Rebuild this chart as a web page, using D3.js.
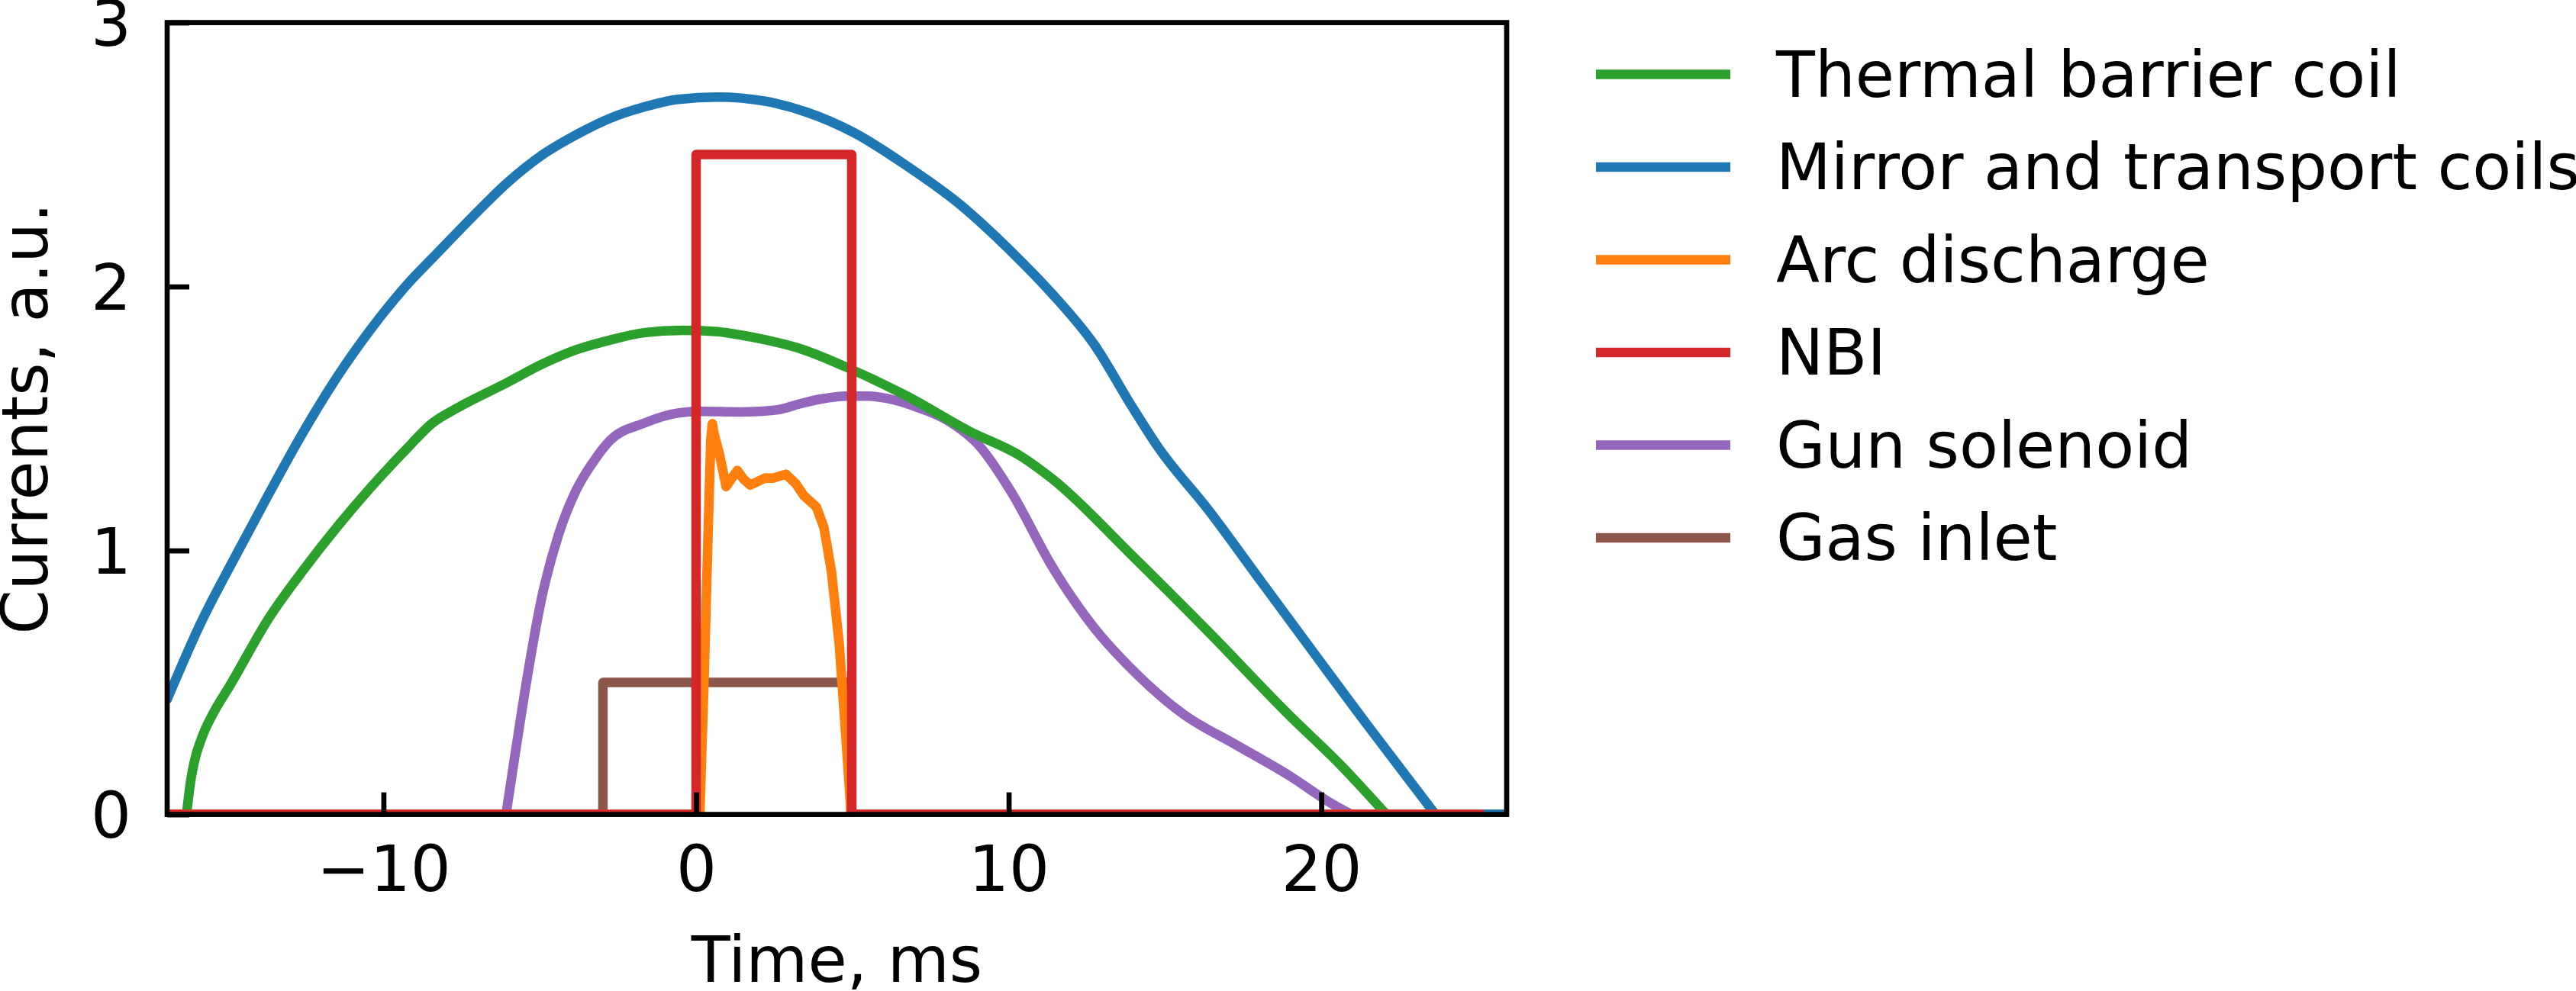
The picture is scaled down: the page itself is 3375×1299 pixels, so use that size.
<!DOCTYPE html>
<html>
<head>
<meta charset="utf-8">
<script src="https://cdn.jsdelivr.net/npm/d3@7"></script>
<style>
  body { margin: 0; background: #fff; }
  text { font-family: "DejaVu Sans", sans-serif; }
</style>
</head>
<body>
<svg id="chart" width="3375" height="1299"></svg>
<script>
// tick values and labels
const xTicks = [-10, 0, 10, 20];
const yTicks = [0, 1, 2, 3];
const xLabel = "Time, ms";
const yLabel = "Currents, a.u.";

// legend entries (legend order)
const seriesNames = ["Thermal barrier coil", "Mirror and transport coils", "Arc discharge", "NBI", "Gun solenoid", "Gas inlet"];
const seriesColors = ["#2ca02c", "#1f77b4", "#ff7f0e", "#d62728", "#9467bd", "#8c564b"];

// [time ms, current a.u.]
const thermalBarrier = [[-16.92, 0], [-16.30, 0], [-16.18, 0.117], [-16.06, 0.195], [-15.81, 0.291], [-15.42, 0.389],
  [-14.93, 0.485], [-13.66, 0.745], [-12.57, 0.925], [-11.48, 1.09], [-10.40, 1.24], [-9.30, 1.38], [-8.43, 1.483],
  [-7.67, 1.538], [-6.03, 1.637], [-4.94, 1.705], [-3.85, 1.76], [-2.76, 1.797], [-1.67, 1.825], [-0.45, 1.834],
  [0.6, 1.83], [1.89, 1.806], [3.40, 1.762], [4.80, 1.695], [6.73, 1.586], [8.74, 1.452], [10.41, 1.356],
  [11.41, 1.27], [13.93, 0.983], [16.44, 0.686], [18.95, 0.379], [20.62, 0.187], [22.08, 0], [25.93, 0]];

const mirrorTransport = [[-16.92, 0.436], [-15.85, 0.724], [-14.75, 0.975], [-13.66, 1.216], [-12.57, 1.448],
  [-11.48, 1.658], [-10.40, 1.839], [-9.30, 2.0], [-8.21, 2.135], [-7.12, 2.268], [-6.03, 2.394], [-4.94, 2.497],
  [-3.85, 2.574], [-2.76, 2.637], [-1.67, 2.68], [-0.58, 2.709], [0.70, 2.718], [2.21, 2.702], [3.55, 2.66],
  [5.05, 2.583], [6.73, 2.458], [8.40, 2.315], [10.41, 2.094], [11.41, 1.97], [12.75, 1.778], [13.93, 1.548],
  [14.76, 1.395], [16.44, 1.146], [18.11, 0.877], [19.78, 0.609], [21.46, 0.341], [23.65, 0], [25.93, 0]];

const arcDischarge = [[-16.92, 0], [0.12, 0], [0.26, 0.53], [0.39, 1.09], [0.47, 1.42], [0.52, 1.48], [0.58, 1.44],
  [0.75, 1.364], [0.96, 1.242], [1.12, 1.27], [1.32, 1.303], [1.52, 1.27], [1.73, 1.248], [2.22, 1.275],
  [2.46, 1.274], [2.87, 1.289], [3.19, 1.253], [3.44, 1.209], [3.85, 1.165], [4.09, 1.087], [4.33, 0.921],
  [4.58, 0.645], [4.78, 0.313], [4.95, 0.02], [5.05, 0], [25.1, 0]];

const nbi = [[-16.92, 0], [0.0, 0], [0.0, 2.5], [4.98, 2.5], [4.98, 0], [25.1, 0]];

const gunSolenoid = [[-16.92, 0], [-6.08, 0], [-5.8, 0.22], [-5.49, 0.456], [-4.94, 0.82], [-4.40, 1.06],
  [-3.85, 1.225], [-3.31, 1.332], [-2.76, 1.416], [-1.67, 1.482], [-0.58, 1.521], [0.16, 1.527], [1.37, 1.525],
  [2.0, 1.527], [2.7, 1.535], [3.3, 1.555], [4.0, 1.574], [4.8, 1.585], [5.5, 1.585], [6.2, 1.574], [7.02, 1.545],
  [8.07, 1.491], [9.07, 1.395], [10.08, 1.222], [11.41, 0.935], [12.75, 0.705], [13.93, 0.551], [15.60, 0.379],
  [17.27, 0.264], [18.95, 0.149], [20.29, 0.044], [20.96, 0], [25.93, 0]];

const gasInlet = [[-16.92, 0], [-2.98, 0], [-2.98, 0.5], [4.95, 0.5], [4.95, 0], [25.1, 0]];

const seriesData = [thermalBarrier, mirrorTransport, arcDischarge, nbi, gunSolenoid, gasInlet];
const smooth = [true, true, false, false, true, false];
const drawOrder = [4, 0, 1, 5, 2, 3]; // red on top, green over purple

const fontSize = 83.3;
const lineWidth = 12.5;
const spineWidth = 6.7;
const tickLen = 29;

const plotLeft = 219, plotRight = 1974, plotTop = 29.6, plotBottom = 1067.6;

const x = d3.scaleLinear().domain([-16.92, 25.93]).range([plotLeft, plotRight]);
const y = d3.scaleLinear().domain([0, 3]).range([plotBottom, plotTop]);

const svg = d3.select("#chart");

svg.append("defs").append("clipPath").attr("id", "plotClip")
    .append("rect")
    .attr("x", plotLeft).attr("y", plotTop)
    .attr("width", plotRight - plotLeft).attr("height", plotBottom - plotTop);

const plot = svg.append("g").attr("clip-path", "url(#plotClip)");

const linear = d3.line().x(d => x(d[0])).y(d => y(d[1])).curve(d3.curveLinear);
const curved = d3.line().x(d => x(d[0])).y(d => y(d[1])).curve(d3.curveMonotoneX);

// split off the flat zero runs at both ends so the smooth curve keeps sharp corners there
function splitRuns(data) {
    let a = 0;
    while (a + 1 < data.length && data[a + 1][1] === 0) a++;
    let b = data.length - 1;
    while (b - 1 > a && data[b - 1][1] === 0) b--;
    return [data.slice(0, a + 1), data.slice(a, b + 1), data.slice(b)];
}

drawOrder.forEach(i => {
    let parts;
    if (smooth[i]) {
        const [head, body, tail] = splitRuns(seriesData[i]);
        parts = [[head, linear], [body, curved], [tail, linear]];
    } else {
        parts = [[seriesData[i], linear]];
    }
    parts.filter(p => p[0].length > 1).forEach(([pts, gen]) => {
        plot.append("path")
            .datum(pts)
            .attr("d", gen)
            .attr("fill", "none")
            .attr("stroke", seriesColors[i])
            .attr("stroke-width", lineWidth)
            .attr("stroke-linejoin", "round")
            .attr("stroke-linecap", "round");
    });
});

// axes with inward ticks
const fmt = d3.format("d"); // d3 v7 writes negatives with U+2212
const xAxis = d3.axisBottom(x).tickValues(xTicks).tickFormat(fmt)
    .tickSizeInner(-tickLen).tickSizeOuter(0).tickPadding(0);
const yAxis = d3.axisLeft(y).tickValues(yTicks).tickFormat(fmt)
    .tickSizeInner(-tickLen).tickSizeOuter(0).tickPadding(47);

const gx = svg.append("g").attr("transform", `translate(0, ${plotBottom})`).call(xAxis);
const gy = svg.append("g").attr("transform", `translate(${plotLeft}, 0)`).call(yAxis);

[gx, gy].forEach(g => {
    g.select(".domain").remove();
    g.selectAll(".tick line").attr("stroke", "black").attr("stroke-width", spineWidth);
    g.selectAll(".tick text").attr("fill", "black").attr("font-size", fontSize)
        .attr("font-family", "DejaVu Sans");
});
gx.selectAll(".tick text").attr("y", 100.4).attr("dy", 0);
gy.selectAll(".tick text").attr("dy", "0.36em");

// spines
svg.append("rect")
    .attr("x", plotLeft).attr("y", plotTop)
    .attr("width", plotRight - plotLeft).attr("height", plotBottom - plotTop)
    .attr("fill", "none")
    .attr("stroke", "black")
    .attr("stroke-width", spineWidth);

// labels
svg.append("text")
    .attr("x", (plotLeft + plotRight) / 2)
    .attr("y", 1287)
    .attr("text-anchor", "middle")
    .attr("font-size", fontSize)
    .attr("fill", "black")
    .text(xLabel);

svg.append("text")
    .attr("transform", `translate(62, ${(plotTop + plotBottom) / 2}) rotate(-90)`)
    .attr("text-anchor", "middle")
    .attr("font-size", fontSize)
    .attr("fill", "black")
    .text(yLabel);

// legend
const legend = svg.append("g").attr("transform", "translate(2091, 97.5)");

const items = legend.selectAll("g")
    .data(seriesNames)
    .join("g")
    .attr("transform", (d, i) => `translate(0, ${i * 121.5})`);

items.append("line")
    .attr("x1", 0).attr("x2", 176)
    .attr("stroke", (d, i) => seriesColors[i])
    .attr("stroke-width", lineWidth);

items.append("text")
    .attr("x", 236)
    .attr("y", 29)
    .attr("font-size", fontSize)
    .attr("fill", "black")
    .text(d => d);
</script>
</body>
</html>
